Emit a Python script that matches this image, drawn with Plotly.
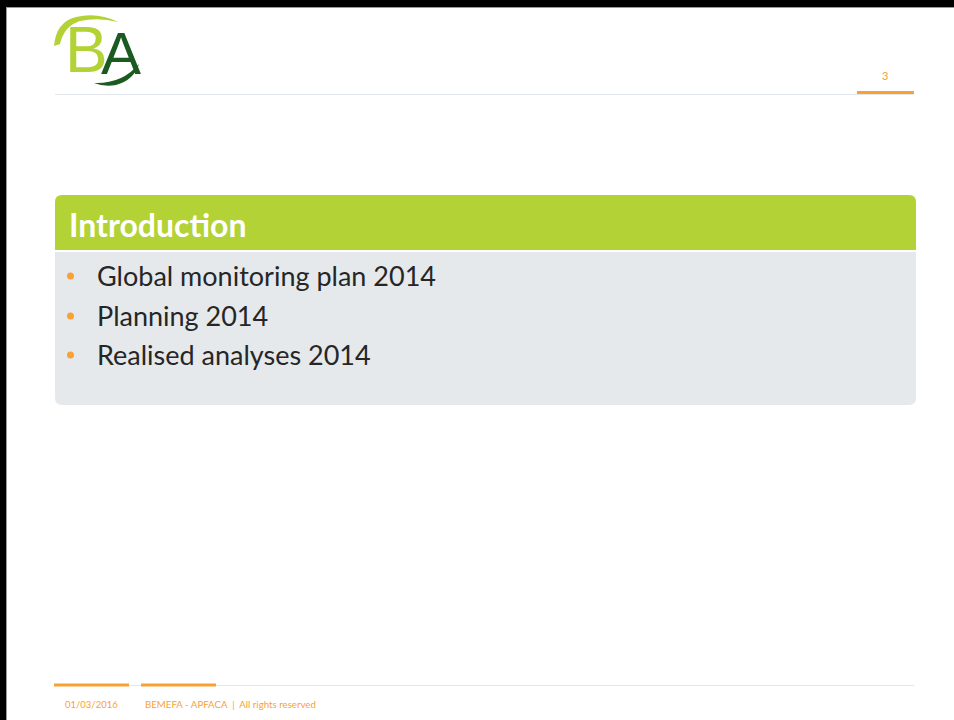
import plotly.graph_objects as go

# ---- content ----
logo_letters = ["B", "A"]
page_number = "3"
section_title = "Introduction"
bullet_items = ["Global monitoring plan 2014", "Planning 2014", "Realised analyses 2014"]
footer_date = "01/03/2016"
footer_text = "BEMEFA - APFACA  |  All rights reserved"

# ---- styles ----
GREEN = "#B3D235"
DARK_GREEN = "#1B5A20"
GREY_BOX = "#E5E9EC"
ORANGE = "#F9A135"
TEXT = "#262626"
FONT = "Lato"
W, H = 954, 720


def rounded_rect(x0, y0, x1, y1, r_top, r_bottom):
    p = f"M {x0+r_top},{y0} L {x1-r_top},{y0} "
    if r_top:
        p += f"Q {x1},{y0} {x1},{y0+r_top} "
    p += f"L {x1},{y1-r_bottom} "
    if r_bottom:
        p += f"Q {x1},{y1} {x1-r_bottom},{y1} "
    p += f"L {x0+r_bottom},{y1} "
    if r_bottom:
        p += f"Q {x0},{y1} {x0},{y1-r_bottom} "
    p += f"L {x0},{y0+r_top} "
    if r_top:
        p += f"Q {x0},{y0} {x0+r_top},{y0} "
    return p + "Z"


fig = go.Figure()
shapes = []
ann = []

# slide frame (black edges)
shapes.append(dict(type="rect", x0=0, y0=0, x1=W, y1=7, fillcolor="black", line_width=0, layer="above"))
shapes.append(dict(type="rect", x0=0, y0=0, x1=6, y1=H, fillcolor="black", line_width=0, layer="above"))
shapes.append(dict(type="line", x0=6, y0=7.5, x1=W, y1=7.5, line=dict(color="#9a9a9a", width=1)))
shapes.append(dict(type="line", x0=6.5, y0=7, x1=6.5, y1=H, line=dict(color="#9a9a9a", width=1)))

# header separator + orange tab
shapes.append(dict(type="line", x0=55, y0=94.5, x1=914, y1=94.5, line=dict(color="#E3E8EE", width=1.2)))
shapes.append(dict(type="line", x0=857, y0=92.5, x1=914, y1=92.5, line=dict(color=ORANGE, width=3)))
ann.append(dict(x=885, y=75, text=page_number, showarrow=False, xanchor="center", yanchor="middle",
                font=dict(family=FONT, size=11, color=ORANGE)))

# logo
shapes.append(dict(type="path", path="M 54,46 Q 56,22 76,17 Q 98,12 118,22 Q 98,17 80,21 Q 64,26 60,44 Z",
                   fillcolor=GREEN, line_width=0))
shapes.append(dict(type="path", path="M 94,83 Q 122,84 139,64 Q 134,80 116,85 Q 104,87 94,83 Z",
                   fillcolor=DARK_GREEN, line_width=0))
ann.append(dict(x=86, y=50, text=logo_letters[0], showarrow=False, xanchor="center", yanchor="middle",
                font=dict(family="Liberation Sans", size=64, color=GREEN)))
ann.append(dict(x=121, y=53, text=logo_letters[1], showarrow=False, xanchor="center", yanchor="middle",
                font=dict(family="Liberation Sans", size=60, color=DARK_GREEN)))

# section box
shapes.append(dict(type="path", path=rounded_rect(55, 195, 916, 250, 7, 0), fillcolor=GREEN, line_width=0))
shapes.append(dict(type="path", path=rounded_rect(55, 252, 916, 405, 0, 7), fillcolor=GREY_BOX, line_width=0))
ann.append(dict(x=67, y=224, text=f"<b>{section_title}</b>", showarrow=False, xanchor="left", yanchor="middle",
                font=dict(family=FONT, size=32, color="white")))

bullet_y = [276, 316, 355]
for y, t in zip(bullet_y, bullet_items):
    shapes.append(dict(type="circle", x0=67, y0=y - 3.5, x1=74, y1=y + 3.5, fillcolor=ORANGE, line_width=0))
    ann.append(dict(x=95, y=y - 1, text=t, showarrow=False, xanchor="left", yanchor="middle",
                    font=dict(family=FONT, size=27, color=TEXT)))

# footer
shapes.append(dict(type="line", x0=54, y0=685.5, x1=914, y1=685.5, line=dict(color="#E3E8EE", width=1.2)))
shapes.append(dict(type="line", x0=54, y0=685, x1=129, y1=685, line=dict(color=ORANGE, width=3)))
shapes.append(dict(type="line", x0=141, y0=685, x1=216, y1=685, line=dict(color=ORANGE, width=3)))
ann.append(dict(x=63, y=704, text=footer_date, showarrow=False, xanchor="left", yanchor="middle",
                font=dict(family=FONT, size=9.5, color=ORANGE)))
ann.append(dict(x=143, y=704, text=footer_text, showarrow=False, xanchor="left", yanchor="middle",
                font=dict(family=FONT, size=9.7, color=ORANGE)))

fig.update_layout(
    width=W, height=H, margin=dict(l=0, r=0, t=0, b=0),
    paper_bgcolor="white", plot_bgcolor="white",
    xaxis=dict(range=[0, W], visible=False, fixedrange=True),
    yaxis=dict(range=[H, 0], visible=False, fixedrange=True),
    shapes=shapes, annotations=ann, showlegend=False,
)
fig.write_html("out.html", config={"displayModeBar": False},
               post_script="document.body.style.margin='0';document.body.style.overflow='hidden';")
